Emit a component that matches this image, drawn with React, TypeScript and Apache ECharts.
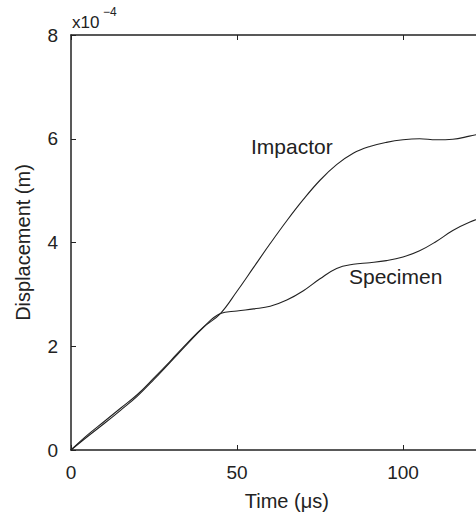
import React, { useEffect, useRef } from "react";
import * as echarts from "echarts";

// Time in microseconds
const time = [0, 5, 10, 15, 20, 25, 30, 35, 40, 45, 50, 55, 60, 65, 70, 75, 80, 85, 90, 95, 100, 105, 110, 115, 120, 125, 130];
// Displacement in units of 1e-4 m
const impactor = [0, 0.26, 0.51, 0.77, 1.04, 1.36, 1.7, 2.04, 2.37, 2.63, 3.06, 3.52, 3.98, 4.42, 4.83, 5.2, 5.5, 5.72, 5.85, 5.93, 5.98, 6.0, 5.98, 5.99, 6.05, 6.12, 6.18];
const specimen = [0, 0.29, 0.55, 0.81, 1.07, 1.39, 1.72, 2.06, 2.38, 2.63, 2.68, 2.72, 2.77, 2.89, 3.07, 3.3, 3.5, 3.58, 3.61, 3.65, 3.72, 3.84, 4.02, 4.23, 4.39, 4.5, 4.56];
const yTicks = [0, 2, 4, 6, 8];
const xTicks = [0, 50, 100];

const FONT = "Liberation Sans, Arial, sans-serif";
const INK = "#222";

export default function App() {
  const ref = useRef<HTMLDivElement>(null);
  useEffect(() => {
    if (!ref.current) return;
    const chart = echarts.init(ref.current, undefined, { renderer: "svg" });
    const axisCommon = {
      axisLine: { show: true, lineStyle: { color: INK, width: 1.5 } },
      axisTick: { show: true, inside: true, length: 5, lineStyle: { color: INK, width: 1 } },
      splitLine: { show: false },
    };
    chart.setOption({
      animation: false,
      backgroundColor: "#fff",
      grid: { left: 71, top: 35, width: 431.6, height: 415, outerBoundsMode: "none", containLabel: false },
      xAxis: [
        {
          type: "value",
          min: 0,
          max: 130,
          interval: 50,
          position: "bottom",
          name: "Time (\u03bcs)",
          nameLocation: "middle",
          nameGap: 41,
          nameTextStyle: { fontFamily: FONT, fontSize: 20, color: INK },
          axisLabel: {
            fontFamily: FONT,
            fontSize: 19,
            color: INK,
            margin: 13,
            formatter: (v: number) => (xTicks.includes(v) ? String(v) : ""),
          },
          ...axisCommon,
        },
        {
          type: "value",
          min: 0,
          max: 130,
          interval: 50,
          position: "top",
          axisLabel: { show: false },
          ...axisCommon,
        },
      ],
      yAxis: {
        type: "value",
        min: 0,
        max: 8,
        interval: 2,
        name: "Displacement (m)",
        nameLocation: "middle",
        nameGap: 38,
        nameTextStyle: { fontFamily: FONT, fontSize: 20, color: INK },
        axisLabel: {
          fontFamily: FONT,
          fontSize: 19,
          color: INK,
          margin: 13,
          formatter: (v: number) => (yTicks.includes(v) ? String(v) : ""),
        },
        ...axisCommon,
      },
      series: [
        {
          name: "Impactor",
          type: "line",
          data: time.map((t, i) => [t, impactor[i]]),
          smooth: 0.4,
          showSymbol: false,
          lineStyle: { color: INK, width: 1.1 },
        },
        {
          name: "Specimen",
          type: "line",
          data: time.map((t, i) => [t, specimen[i]]),
          smooth: 0.4,
          showSymbol: false,
          lineStyle: { color: INK, width: 1.1 },
        },
      ],
      graphic: [
        {
          type: "text",
          left: 72,
          top: 14,
          style: { text: "x10", fontFamily: FONT, fontSize: 17, fill: INK },
        },
        {
          type: "text",
          left: 103,
          top: 6,
          style: { text: "\u22124", fontFamily: FONT, fontSize: 12, fill: INK },
        },
        {
          type: "text",
          left: 251,
          top: 136,
          style: { text: "Impactor", fontFamily: FONT, fontSize: 21, fill: INK },
        },
        {
          type: "text",
          left: 349,
          top: 266,
          style: { text: "Specimen", fontFamily: FONT, fontSize: 21, fill: INK },
        },
      ],
    });
    return () => chart.dispose();
  }, []);
  return <div ref={ref} style={{ width: 476, height: 515, position: "absolute", left: 0, top: 0 }} />;
}
